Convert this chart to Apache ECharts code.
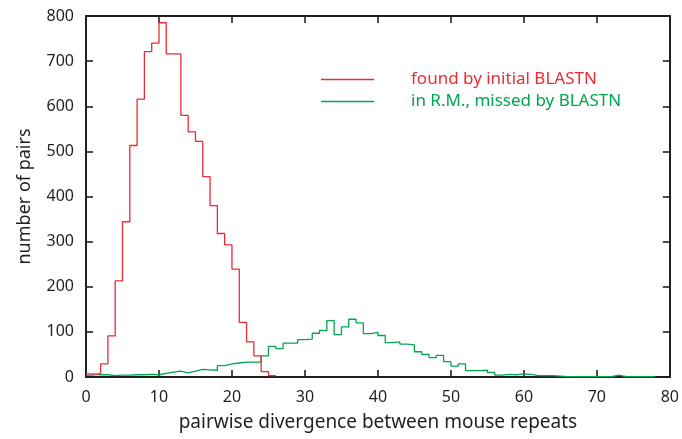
<!DOCTYPE html>
<html>
<head>
<meta charset="utf-8">
<script src="https://cdn.jsdelivr.net/npm/echarts@6/dist/echarts.min.js"></script>
<style>
  html, body { margin: 0; padding: 0; background: #ffffff; }
  #chart { width: 682px; height: 439px; }
</style>
</head>
<body>
<div id="chart"></div>
<script>
// Histogram bins are 1 unit wide; bin i covers [i, i+1).
const xTicks = [0, 10, 20, 30, 40, 50, 60, 70, 80];
const yTicks = [0, 100, 200, 300, 400, 500, 600, 700, 800];

const foundName = 'found by initial BLASTN';
const foundCounts = [4, 8, 29, 91, 213, 344, 513, 616, 721, 740, 785, 716, 716, 580,
  543, 522, 444, 380, 318, 293, 239, 121, 78, 47, 12, 3];

const missedName = 'in R.M., missed by BLASTN';
const missedCounts = [7, 5, 5, 3, 4, 4, 5, 5, 6, 5, 8, 11, 13, 9, 13, 17, 16, 15, 25, 29,
  31, 33, 33, 33, 47, 68, 63, 75, 75, 83, 84, 97, 103, 125, 94, 111, 128, 120, 96, 99,
  92, 76, 78, 73, 71, 56, 50, 43, 48, 34, 24, 29, 14, 14, 15, 10, 4, 6, 5, 7,
  6, 3, 3, 3, 2, 1, 1, 1, 1, 1, 1, 1, 4, 1, 1, 1, 1, 1];

const RED = '#ee2a35';
const GREEN = '#00a651';
const INK = '#231f20';
const FONT = '"Noto Sans", "DejaVu Sans", sans-serif';

// Turn bin counts into step points: each bin starts at its left edge,
// and one closing point holds the last level to the right edge.
function stepPoints(counts) {
  const pts = counts.map((c, i) => [i, c]);
  pts.push([counts.length, counts[counts.length - 1]]);
  return pts;
}

const chart = echarts.init(document.getElementById('chart'), null, { renderer: 'canvas' });

const tickStyle = { show: true, inside: true, length: 7, lineStyle: { color: INK, width: 1.6 } };
const lineStyle = { show: true, onZero: false, lineStyle: { color: INK, width: 2 } };

chart.setOption({
  animation: false,
  backgroundColor: '#ffffff',
  textStyle: { fontFamily: FONT },
  grid: { left: 86, right: 12, top: 16, bottom: 62, containLabel: false },
  legend: {
    orient: 'vertical',
    left: 321,
    top: 70,
    padding: 0,
    icon: 'rect',
    itemWidth: 53,
    itemHeight: 1.3,
    itemGap: 3,
    data: [
      { name: foundName, textStyle: { color: RED } },
      { name: missedName, textStyle: { color: GREEN } }
    ],
    textStyle: { fontSize: 17, fontFamily: FONT, padding: [0, 0, 0, 32], lineHeight: 19 }
  },
  xAxis: [
    {
      type: 'value', min: xTicks[0], max: xTicks[xTicks.length - 1], interval: 10,
      name: 'pairwise divergence between mouse repeats',
      nameLocation: 'middle', nameGap: 36,
      nameTextStyle: { fontSize: 19, color: INK, fontFamily: FONT },
      axisLine: lineStyle, axisTick: tickStyle,
      axisLabel: { color: INK, fontSize: 16, margin: 12, fontFamily: FONT },
      splitLine: { show: false }
    },
    {
      type: 'value', position: 'top', min: xTicks[0], max: xTicks[xTicks.length - 1], interval: 10,
      axisLine: lineStyle, axisTick: tickStyle, axisLabel: { show: false }, splitLine: { show: false }
    }
  ],
  yAxis: [
    {
      type: 'value', min: yTicks[0], max: yTicks[yTicks.length - 1], interval: 100,
      name: 'number of pairs',
      nameLocation: 'middle', nameGap: 52,
      nameTextStyle: { fontSize: 18, color: INK, fontFamily: FONT },
      axisLine: lineStyle, axisTick: tickStyle,
      axisLabel: { color: INK, fontSize: 16, margin: 12, fontFamily: FONT },
      splitLine: { show: false }
    },
    {
      type: 'value', position: 'right', min: yTicks[0], max: yTicks[yTicks.length - 1], interval: 100,
      axisLine: lineStyle, axisTick: tickStyle, axisLabel: { show: false }, splitLine: { show: false }
    }
  ],
  series: [
    {
      name: missedName, type: 'line', step: 'end',
      data: stepPoints(missedCounts),
      showSymbol: false, symbol: 'none',
      lineStyle: { color: GREEN, width: 1.3 },
      itemStyle: { color: GREEN },
      z: 2
    },
    {
      name: foundName, type: 'line', step: 'end',
      data: stepPoints(foundCounts),
      showSymbol: false, symbol: 'none',
      lineStyle: { color: RED, width: 1.3 },
      itemStyle: { color: RED },
      z: 3
    }
  ]
});
</script>
</body>
</html>
